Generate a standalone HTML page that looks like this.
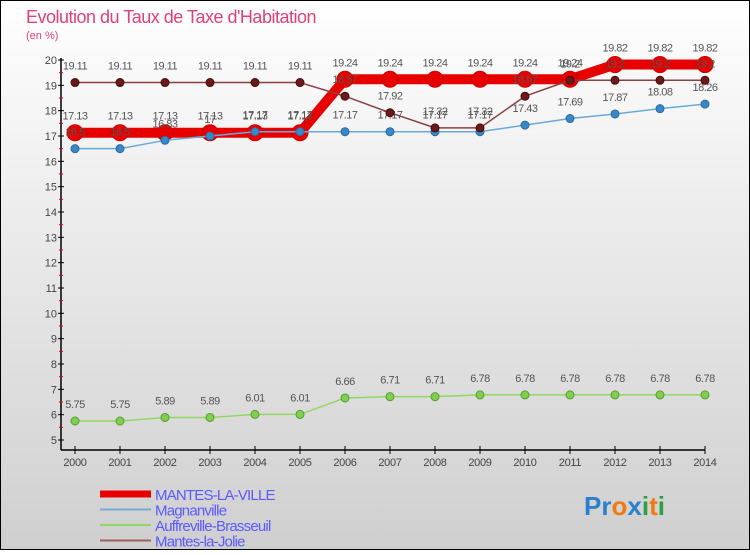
<!DOCTYPE html>
<html><head><meta charset="utf-8"><style>
html,body{margin:0;padding:0}
body{width:750px;height:550px;overflow:hidden;font-family:"Liberation Sans",sans-serif}
</style></head><body>
<svg width="750" height="550" xmlns="http://www.w3.org/2000/svg">
<defs><linearGradient id="bg" x1="0" y1="0" x2="0" y2="1"><stop offset="0" stop-color="#ffffff"/><stop offset="1" stop-color="#cfcfcf"/></linearGradient></defs>
<rect x="0.5" y="0.5" width="749" height="549" fill="url(#bg)" stroke="#000"/>
<text x="26" y="23" font-size="18" fill="#e0407a" letter-spacing="-0.5">Evolution du Taux de Taxe d'Habitation</text>
<text x="26" y="39" font-size="11" fill="#e0407a">(en %)</text>
<g id="axes"></g><g id="series"></g><g id="legend"></g>
<text x="584" y="515" font-size="26" font-weight="bold"><tspan fill="#2a7fd0">Pr</tspan><tspan fill="#f07a10">o</tspan><tspan fill="#2a7fd0">x</tspan><tspan fill="#2aa040">i</tspan><tspan fill="#f07a10">t</tspan><tspan fill="#2aa040">i</tspan></text>
</svg>
<script>
const years=[2000,2001,2002,2003,2004,2005,2006,2007,2008,2009,2010,2011,2012,2013,2014];
const yTicks=[5,6,7,8,9,10,11,12,13,14,15,16,17,18,19,20];
const mantesLaVille=[17.13,17.13,17.13,17.13,17.13,17.13,19.24,19.24,19.24,19.24,19.24,19.24,19.82,19.82,19.82];
const magnanville=[16.5,16.5,16.83,17,17.17,17.17,17.17,17.17,17.17,17.17,17.43,17.69,17.87,18.08,18.26];
const auffreville=[5.75,5.75,5.89,5.89,6.01,6.01,6.66,6.71,6.71,6.78,6.78,6.78,6.78,6.78,6.78];
const mantesLaJolie=[19.11,19.11,19.11,19.11,19.11,19.11,18.57,17.92,17.32,17.32,18.57,19.2,19.2,19.2,19.2];
const NS="http://www.w3.org/2000/svg";
const xS=i=>75+i*45, yS=v=>440-(v-5)*(380/15);
function mk(p,tag,at){const e=document.createElementNS(NS,tag);for(const k in at)e.setAttribute(k,at[k]);p.appendChild(e);return e;}
const ax=document.getElementById('axes');
let l=mk(ax,'line',{x1:61,y1:58,x2:61,y2:450,stroke:'#000','stroke-width':1.5});


l=mk(ax,'line',{x1:61,y1:450,x2:705,y2:450,stroke:'#000','stroke-width':1.5});


yTicks.forEach(v=>{
 mk(ax,'line',{x1:58,y1:yS(v),x2:64,y2:yS(v),stroke:'#000'});
 if(v<20) mk(ax,'line',{x1:59,y1:yS(v+0.5),x2:63,y2:yS(v+0.5),stroke:'#e00'});
 const t=mk(ax,'text',{x:57,y:yS(v)+4,'font-size':11,fill:'#444','text-anchor':'end'});t.textContent=v;
 
 
});
years.forEach((y,i)=>{
 mk(ax,'line',{x1:xS(i),y1:446,x2:xS(i),y2:454,stroke:'#000'});
 const t=mk(ax,'text',{x:xS(i),y:466,'font-size':11,fill:'#444','text-anchor':'middle','letter-spacing':'-0.3'});t.textContent=y;
 
 
});
const sg=document.getElementById('series');
function series(data,color,w,r,dot,name,stroke){
 const g=mk(sg,'g',{});
 
 
 mk(g,'polyline',{points:data.map((v,i)=>xS(i)+','+yS(v)).join(' '),fill:'none',stroke:color,'stroke-width':w,'stroke-linejoin':'round'});
 data.forEach((v,i)=>{
  const c=mk(g,'circle',{cx:xS(i),cy:yS(v),r:r,fill:dot,stroke:stroke,'stroke-width':1});
  
  
  const t=mk(g,'text',{x:xS(i),y:yS(v)-13,'font-size':11,fill:'#555','text-anchor':'middle','letter-spacing':'-0.5'});t.textContent=v;
  
  
 });
}
series(mantesLaVille,'#e80000',10,8,'#e80000','series-mantes-la-ville','#c00');
series(magnanville,'#6aaad8',1.5,4,'#3a88c8','series-magnanville','#2a6aa0');
series(auffreville,'#90d860',1.5,4,'#80d050','series-auffreville-brasseuil','#5a9a30');
series(mantesLaJolie,'#8a4040',1.5,4,'#6a1a1a','series-mantes-la-jolie','#4a0a0a');
const lg=document.getElementById('legend');
[['MANTES-LA-VILLE','#e80000',7],['Magnanville','#7aaad0',2],['Auffreville-Brasseuil','#90d860',2],['Mantes-la-Jolie','#9a6060',2]].forEach((e,i)=>{
 const y=494+i*15.5;
 const g=mk(lg,'g',{});
 
 
 mk(g,'line',{x1:100,y1:y,x2:151,y2:y,stroke:e[1],'stroke-width':e[2]});
 const t=mk(g,'text',{x:155,y:y+6,'font-size':15,fill:'#5a5aff','letter-spacing':'-0.8'});t.textContent=e[0];
});
</script>
</body></html>
